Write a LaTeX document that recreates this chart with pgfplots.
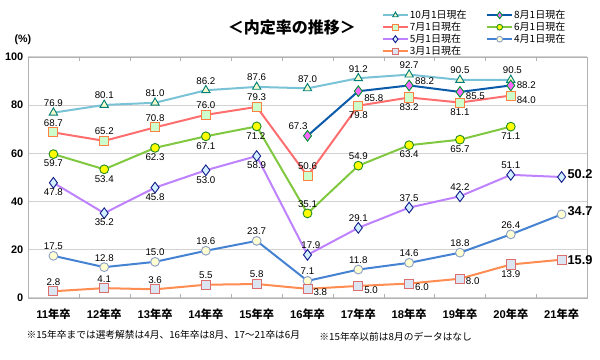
\documentclass[border=0pt]{standalone}
\usepackage{pgfplots}
\pgfplotsset{compat=1.18}
\usepackage{fontspec}
\setmainfont{Liberation Sans}
\newfontfamily\jp{Noto Sans CJK JP}
\definecolor{cAl}{RGB}{122,195,214}\definecolor{cAf}{RGB}{245,250,200}\definecolor{cAe}{RGB}{0,128,120}
\definecolor{cBl}{RGB}{10,90,170}\definecolor{cBf}{RGB}{255,102,255}\definecolor{cBe}{RGB}{0,150,50}
\definecolor{cCl}{RGB}{255,110,110}\definecolor{cCf}{RGB}{204,255,204}\definecolor{cCe}{RGB}{255,128,64}
\definecolor{cDl}{RGB}{128,200,64}\definecolor{cDf}{RGB}{255,255,0}\definecolor{cDe}{RGB}{40,140,40}
\definecolor{cEl}{RGB}{190,130,255}\definecolor{cEf}{RGB}{210,240,255}\definecolor{cEe}{RGB}{20,30,140}
\definecolor{cFl}{RGB}{70,130,210}\definecolor{cFf}{RGB}{255,255,210}\definecolor{cFe}{RGB}{140,160,200}
\definecolor{cGl}{RGB}{255,140,80}\definecolor{cGf}{RGB}{220,230,242}\definecolor{cGe}{RGB}{220,110,110}
\newcommand{\yl}[1]{#1{\jp 年卒}}
\begin{document}
\begin{tikzpicture}
\path[use as bounding box] (-21pt,-46.5pt) rectangle (429pt,223.5pt);
\begin{axis}[
  at={(0,0)}, anchor=south west,
  scale only axis, width=419.25pt, height=180.75pt,
  xmin=-0.5, xmax=10.5, ymin=0, ymax=100,
  clip=false,
  /pgf/number format/assume math mode=true,
  xtick={0,...,10},
  xticklabels={\yl{11},\yl{12},\yl{13},\yl{14},\yl{15},\yl{16},\yl{17},\yl{18},\yl{19},\yl{20},\yl{21}},
  minor xtick={-0.5,0.5,...,10.5},
  ytick={0,20,...,100},
  major tick length=0pt, minor tick length=3pt, tick align=inside,
  minor tick style={gray!60},
  ymajorgrids, grid style={gray!35, line width=0.8pt},
  axis line style={gray!60, line width=0.6pt},
  xticklabel style={font=\bfseries\fontsize{8.4}{9}\selectfont, yshift=-5pt},
  yticklabel style={font=\bfseries\fontsize{8.2}{9}\selectfont},
  lab/.style={
    line width=1.5pt,
    point meta=y,
    visualization depends on={value \thisrow{a}\as\myanchor},
    visualization depends on={value \thisrow{b}\as\myflag},
    nodes near coords={\ifnum\myflag=1 \bfseries\fontsize{9.6}{10}\selectfont\fi\pgfmathprintnumber[fixed,fixed zerofill,precision=1]{\pgfplotspointmeta}},
    nodes near coords style={anchor=\myanchor, font=\fontsize{7.3}{8}\selectfont, inner sep=1pt, outer sep=3.5pt, text=black},
  },
  legend columns=2,
  legend style={at={(0.63,1.205)}, anchor=north west, draw=none, fill=none,
    font=\jp\fontsize{7.5}{8}\selectfont, row sep=0pt, inner sep=1pt,
    nodes={inner sep=0.6pt},
    /tikz/every even column/.append style={column sep=14pt}},
  legend cell align=left,
  legend image code/.code={\draw[mark repeat=2,mark phase=2,#1,/tikz/every mark/.append style={scale=0.65}] plot coordinates {(0pt,0pt) (9.5pt,0pt) (19pt,0pt)};},
]
\addplot[lab, color=cAl, mark=triangle*, mark size=3.6pt, mark options={fill=cAf, draw=cAe, line width=0.7pt}] table {
x y a b
0 76.9 270 0
1 80.1 270 0
2 81.0 270 0
3 86.2 270 0
4 87.6 270 0
5 87.0 270 0
6 91.2 270 0
7 92.7 270 0
8 90.5 270 0
9 90.5 260 0
};
\addlegendentry{10月1日現在}
\addplot[lab, color=cBl, mark=diamond*, mark size=4pt, mark options={fill=cBf, draw=cBe, line width=0.7pt}] table {
x y a b
5 67.3 315 0
6 85.8 155 0
7 88.2 195 0
8 85.5 165 0
9 88.2 180 0
};
\addlegendentry{8月1日現在}
\addplot[lab, color=cCl, mark=square*, mark size=3.4pt, mark options={fill=cCf, draw=cCe, line width=0.7pt}] table {
x y a b
0 68.7 270 0
1 65.2 270 0
2 70.8 270 0
3 76.0 270 0
4 79.3 270 0
5 50.6 270 0
6 79.8 90 0
7 83.2 90 0
8 81.1 90 0
9 84.0 165 0
};
\addlegendentry{7月1日現在}
\addplot[lab, color=cDl, mark=*, mark size=3.3pt, mark options={fill=cDf, draw=cDe, line width=0.7pt}] table {
x y a b
0 59.7 90 0
1 53.4 90 0
2 62.3 90 0
3 67.1 90 0
4 71.2 85 0
5 35.1 270 0
6 54.9 270 0
7 63.4 90 0
8 65.7 90 0
9 71.1 90 0
};
\addlegendentry{6月1日現在}
\addplot[lab, color=cEl, mark=diamond*, mark size=4pt, mark options={fill=cEf, draw=cEe, line width=0.7pt}] table {
x y a b
0 47.8 90 0
1 35.2 90 0
2 45.8 90 0
3 53.0 90 0
4 58.9 90 0
5 17.9 250 0
6 29.1 270 0
7 37.5 270 0
8 42.2 270 0
9 51.1 270 0
10 50.2 190 1
};
\addlegendentry{5月1日現在}
\addplot[lab, color=cFl, mark=*, mark size=3.3pt, mark options={fill=cFf, draw=cFe, line width=0.7pt}] table {
x y a b
0 17.5 270 0
1 12.8 270 0
2 15.0 270 0
3 19.6 270 0
4 23.7 270 0
5 7.1 270 0
6 11.8 270 0
7 14.6 270 0
8 18.8 270 0
9 26.4 270 0
10 34.7 190 1
};
\addlegendentry{4月1日現在}
\addplot[lab, color=cGl, mark=square*, mark size=3.4pt, mark options={fill=cGf, draw=cGe, line width=0.7pt}] table {
x y a b
0 2.8 270 0
1 4.1 270 0
2 3.6 270 0
3 5.5 270 0
4 5.8 270 0
5 3.8 165 0
6 5.0 160 0
7 6.0 165 0
8 8.0 170 0
9 13.9 90 0
10 15.9 180 1
};
\addlegendentry{3月1日現在}
\node[font=\jp\bfseries\fontsize{12}{13}\selectfont] at (rel axis cs:0.472,1.124) {＜内定率の推移＞};
\node[font=\bfseries\fontsize{8}{9}\selectfont] at (rel axis cs:-0.009,1.07) {(\%)};
\node[anchor=west, font=\jp\fontsize{7.3}{8}\selectfont] at (rel axis cs:-0.011,-0.154) {※15年卒までは選考解禁は4月、16年卒は8月、17～21卒は6月};
\node[anchor=west, font=\jp\fontsize{7.3}{8}\selectfont] at (rel axis cs:0.513,-0.162) {※15年卒以前は8月のデータはなし};
\end{axis}
\end{tikzpicture}
\end{document}
